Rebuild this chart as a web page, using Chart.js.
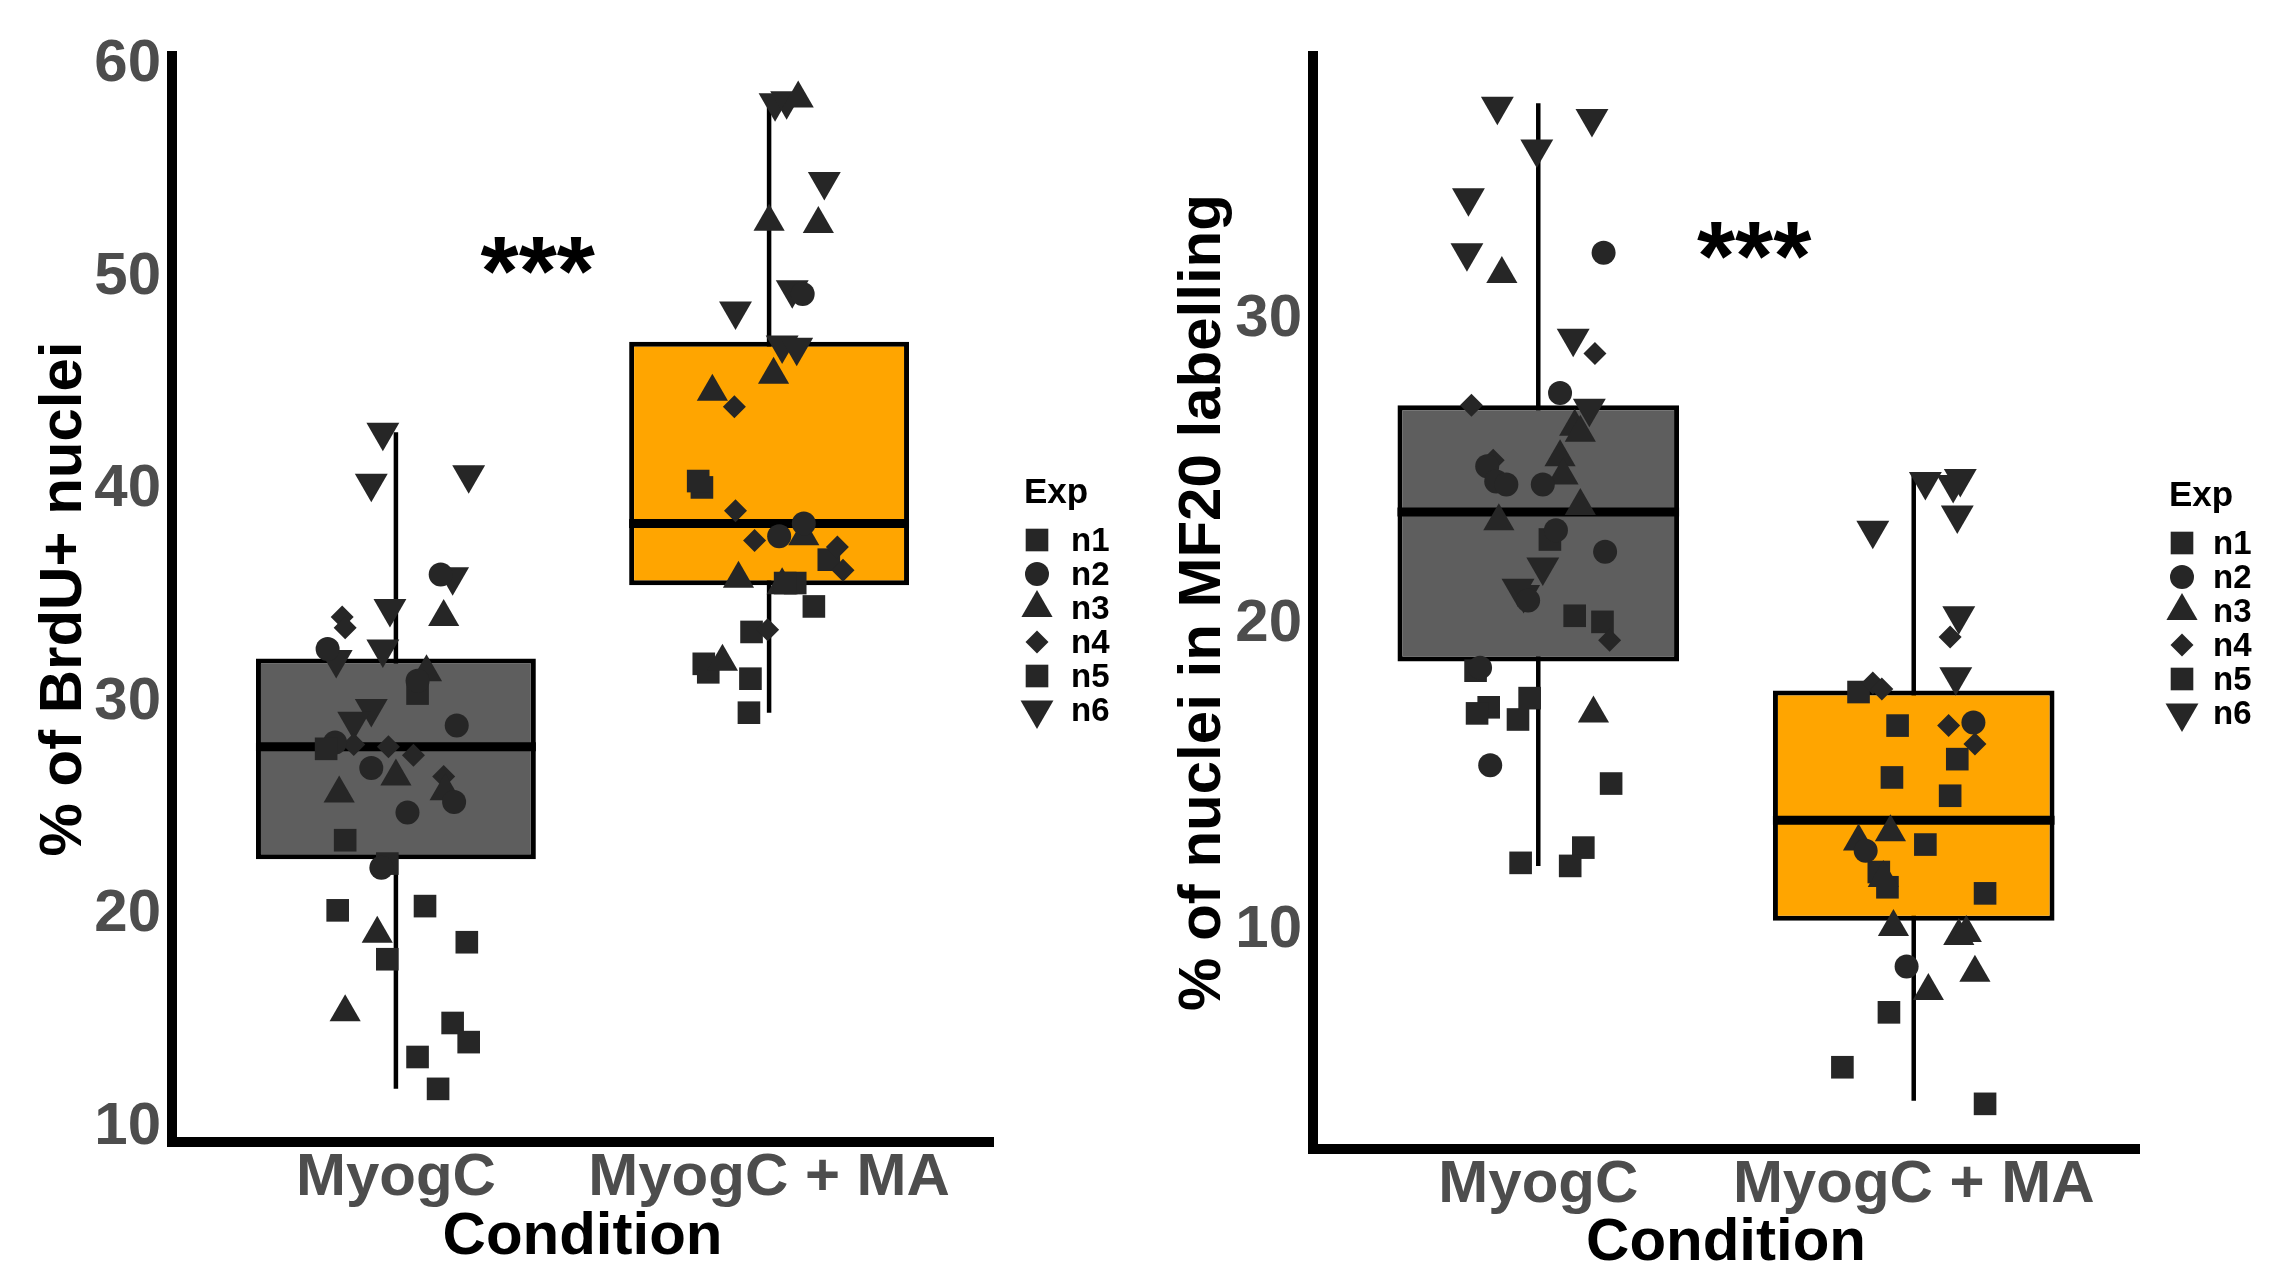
<!DOCTYPE html>
<html>
<head>
<meta charset="utf-8">
<script src="https://cdn.jsdelivr.net/npm/chart.js@4.4.1/dist/chart.umd.min.js"></script>
<style>
  html, body { margin: 0; padding: 0; background: #fff; }
  #wrap { position: relative; width: 2278px; height: 1267px; }
  canvas { position: absolute; top: 0; }
  #c1 { left: 0; }
  #c2 { left: 1140px; }
</style>
</head>
<body>
<div id="wrap">
  <canvas id="c1" width="1140" height="1267"></canvas>
  <canvas id="c2" width="1138" height="1267"></canvas>
</div>
<script>
// --- DATI ---
const condizioni = ['MyogC', 'MyogC + MA'];
const esperimenti = ['n1', 'n2', 'n3', 'n4', 'n5', 'n6'];

// Pannello 1: % of BrdU+ nuclei
const brduTicks = [10, 20, 30, 40, 50, 60];
const brduQ1 = [22.6, 35.5];
const brduMed = [27.9, 38.4];
const brduQ3 = [32.05, 46.95];
const brduLo = [11.8, 29.5];
const brduHi = [42.7, 58.4];
const brduStelle = [1.38, 51.3];

const brduCtrlVal = [42.7, 40.3, 40.7, 36.0, 35.9, 34.0, 34.4, 34.0, 33.5, 32.5, 32.0, 32.5, 31.0, 31.4, 30.4, 29.7, 29.1, 28.9, 28.1, 27.8, 28.0, 27.9, 27.5, 26.5, 26.9, 26.5, 25.8, 25.3, 25.7, 24.8, 23.5, 22.2, 22.4, 20.2, 20.4, 19.1, 17.9, 18.7, 15.4, 14.9, 14.0, 13.3, 11.8];
const brduCtrlExp = [6, 6, 6, 2, 6, 3, 6, 4, 4, 2, 6, 6, 2, 3, 5, 6, 6, 2, 2, 1, 4, 4, 4, 3, 2, 4, 3, 2, 3, 2, 1, 2, 5, 1, 1, 3, 5, 5, 3, 5, 5, 5, 5];
const brduCtrlJit = [-0.035, -0.066, 0.195, 0.12, 0.152, 0.128, -0.016, -0.144, -0.136, -0.183, -0.16, -0.035, 0.058, 0.082, 0.058, -0.066, -0.113, 0.163, -0.163, -0.187, -0.113, -0.02, 0.047, 0.0, -0.066, 0.128, 0.132, 0.156, -0.152, 0.031, -0.136, -0.039, -0.023, -0.156, 0.078, -0.05, -0.023, 0.19, -0.136, 0.152, 0.195, 0.058, 0.113];

const brduMaVal = [58.2, 58.3, 58.4, 54.5, 52.6, 52.5, 49.4, 49.2, 48.4, 46.8, 46.7, 45.4, 44.6, 43.9, 40.4, 40.1, 39.0, 38.4, 37.8, 37.8, 37.6, 37.3, 36.2, 36.7, 35.8, 35.6, 35.5, 35.6, 34.5, 33.3, 33.4, 31.8, 31.4, 31.9, 31.1, 29.5];
const brduMaExp = [6, 6, 3, 6, 3, 3, 6, 2, 6, 6, 6, 3, 3, 4, 1, 5, 4, 2, 2, 3, 4, 4, 4, 5, 3, 1, 3, 5, 5, 5, 4, 5, 5, 3, 5, 5];
const brduMaJit = [0.016, 0.047, 0.078, 0.148, 0.0, 0.132, 0.062, 0.09, -0.09, 0.035, 0.074, 0.012, -0.152, -0.093, -0.19, -0.18, -0.09, 0.093, 0.027, 0.093, -0.039, 0.183, 0.198, 0.16, -0.082, 0.043, 0.035, 0.07, 0.12, -0.047, -0.004, -0.175, -0.163, -0.125, -0.05, -0.054];

// Pannello 2: % of nuclei in MF20 labelling
const mf20Ticks = [10, 20, 30];
const mf20Q1 = [18.8, 10.3];
const mf20Med = [23.7, 13.6];
const mf20Q3 = [27.2, 17.85];
const mf20Lo = [12.1, 4.4];
const mf20Hi = [37.1, 24.9];
const mf20Stelle = [1.575, 32.8];

const mf20CtrlVal = [37.0, 36.6, 35.6, 34.0, 32.2, 31.5, 32.2, 29.4, 28.9, 27.2, 27.6, 27.1, 26.5, 26.3, 25.4, 25.2, 24.7, 24.6, 25.5, 24.6, 24.9, 23.4, 23.9, 23.1, 22.8, 22.4, 21.9, 21.2, 21.0, 20.8, 20.3, 20.1, 19.5, 18.6, 18.5, 17.6, 17.3, 17.1, 16.9, 17.1, 15.4, 14.8, 12.2, 12.7, 12.1];
const mf20CtrlExp = [6, 6, 6, 6, 6, 3, 2, 6, 4, 4, 2, 6, 3, 3, 4, 2, 2, 2, 3, 2, 3, 3, 3, 2, 5, 2, 6, 6, 6, 2, 5, 5, 4, 2, 5, 1, 5, 5, 5, 3, 2, 5, 5, 5, 1];
const mf20CtrlJit = [-0.109, 0.143, -0.004, -0.186, -0.19, -0.097, 0.174, 0.093, 0.151, -0.178, 0.058, 0.136, 0.097, 0.112, -0.12, -0.136, -0.112, -0.085, 0.058, 0.012, 0.066, -0.105, 0.112, 0.047, 0.031, 0.178, 0.012, -0.054, -0.039, -0.027, 0.097, 0.171, 0.19, -0.155, -0.167, -0.023, -0.132, -0.163, -0.054, 0.147, -0.128, 0.194, -0.047, 0.12, 0.085];

const mf20MaVal = [24.7, 24.8, 24.6, 23.6, 23.1, 20.3, 19.6, 18.3, 18.1, 17.9, 17.8, 16.7, 16.8, 16.7, 16.1, 15.6, 15.0, 14.4, 13.2, 12.9, 12.6, 12.8, 11.9, 11.7, 11.4, 11.2, 10.1, 9.8, 9.9, 8.8, 8.6, 8.0, 7.3, 5.5, 4.3];
const mf20MaExp = [6, 6, 6, 6, 6, 6, 4, 6, 4, 4, 5, 5, 2, 4, 4, 5, 5, 5, 3, 3, 2, 5, 5, 3, 5, 5, 3, 3, 3, 2, 3, 3, 5, 5, 5];
const mf20MaJit = [0.031, 0.124, 0.105, 0.116, -0.109, 0.12, 0.097, 0.112, -0.109, -0.085, -0.147, -0.043, 0.159, 0.093, 0.163, 0.116, -0.058, 0.097, -0.062, -0.147, -0.128, 0.031, -0.093, -0.081, -0.07, 0.19, -0.054, 0.12, 0.14, -0.019, 0.163, 0.039, -0.066, -0.19, 0.19];

// --- STILI ---
const FONT = "'Liberation Sans', Arial, sans-serif";
const MEZZA_SCATOLA = 0.375;   // meta larghezza box (unita asse x)
const coloriBox = ['#5E5E5E', '#FFA500'];
const colorePunti = '#262626';
const forme = [
  { pointStyle: 'rect', radius: 16, rotation: 0 },
  { pointStyle: 'circle', radius: 12, rotation: 0 },
  { pointStyle: 'triangle', radius: 18, rotation: 0 },
  { pointStyle: 'rectRot', radius: 11.5, rotation: 0 },
  { pointStyle: 'rect', radius: 16, rotation: 0 },
  { pointStyle: 'triangle', radius: 19, rotation: 180 }
];

Chart.defaults.font.family = FONT;

// stelle di significativita
const pluginStelle = {
  id: 'stelle',
  afterDatasetsDraw(chart, args, opts) {
    const { ctx, scales } = chart;
    const size = 98;
    ctx.save();
    ctx.font = `bold ${size}px ${FONT}`;
    ctx.fillStyle = '#000';
    ctx.textAlign = 'center';
    ctx.textBaseline = 'alphabetic';
    const x = scales.x.getPixelForValue(opts.pos[0]);
    const y = scales.y.getPixelForValue(opts.pos[1]) + size * 0.565;
    ctx.fillText('***', x, y);
    ctx.restore();
  }
};

// legenda "Exp"
const pluginLegenda = {
  id: 'legendaExp',
  afterDraw(chart, args, opts) {
    const { ctx } = chart;
    ctx.save();
    ctx.fillStyle = '#000';
    ctx.font = `bold 35px ${FONT}`;
    ctx.textAlign = 'left';
    ctx.textBaseline = 'alphabetic';
    ctx.fillText('Exp', opts.titleX, opts.titleY);
    ctx.font = `bold 33px ${FONT}`;
    ctx.textBaseline = 'middle';
    esperimenti.forEach((nome, k) => {
      const y = opts.y0 + k * opts.step;
      ctx.fillStyle = colorePunti;
      Chart.helpers.drawPoint(ctx, { pointStyle: forme[k].pointStyle, radius: forme[k].radius, rotation: forme[k].rotation, borderWidth: 0 }, opts.symX, y);
      ctx.fillStyle = '#000';
      ctx.fillText(nome, opts.textX, y + 2);
    });
    ctx.restore();
  }
};

function creaGrafico(id, p) {
  const datasets = [];

  // punti (jitter) per esperimento
  esperimenti.forEach((nome, k) => {
    const pts = [];
    p.gruppi.forEach((g, gi) => {
      g.val.forEach((v, i) => {
        if (g.exp[i] === k + 1) pts.push({ x: gi + 1 + g.jit[i], y: v });
      });
    });
    datasets.push({
      type: 'scatter', label: nome, data: pts, order: 0,
      backgroundColor: colorePunti, borderWidth: 0,
      pointStyle: forme[k].pointStyle, pointRadius: forme[k].radius,
      pointHoverRadius: forme[k].radius, pointRotation: forme[k].rotation
    });
  });

  condizioni.forEach((c, gi) => {
    // mediana
    datasets.push({
      type: 'line', label: 'mediana ' + c, order: 1,
      data: [{ x: gi + 1 - MEZZA_SCATOLA, y: p.med[gi] }, { x: gi + 1 + MEZZA_SCATOLA, y: p.med[gi] }],
      borderColor: '#000', borderWidth: 9, borderCapStyle: 'butt', pointRadius: 0
    });
    // baffi
    datasets.push({
      type: 'line', label: 'baffi ' + c, order: 3,
      data: [{ x: gi + 1, y: p.lo[gi] }, { x: gi + 1, y: p.hi[gi] }],
      borderColor: '#000', borderWidth: 4.5, borderCapStyle: 'butt', pointRadius: 0
    });
  });

  // scatole (barre flottanti Q1-Q3)
  datasets.push({
    type: 'bar', label: 'box', order: 2,
    data: condizioni.map((c, gi) => ({ x: gi + 1, y: [p.q1[gi], p.q3[gi]] })),
    backgroundColor: coloriBox, borderColor: '#000', borderWidth: 5, borderSkipped: false,
    categoryPercentage: 1, barPercentage: 2 * MEZZA_SCATOLA
  });

  return new Chart(document.getElementById(id), {
    type: 'scatter',
    data: { datasets },
    options: {
      responsive: false,
      animation: false,
      devicePixelRatio: 1,
      layout: { padding: p.padding },
      plugins: {
        legend: { display: false },
        tooltip: { enabled: false },
        stelle: { pos: p.stelle },
        legendaExp: p.legenda
      },
      scales: {
        x: {
          type: 'linear', min: 0.4, max: 2.6, offset: false,
          afterBuildTicks: s => { s.ticks = condizioni.map((c, i) => ({ value: i + 1 })); },
          afterFit: s => { s.height = p.xHeight; },
          ticks: {
            callback: v => condizioni[Math.round(v) - 1],
            color: '#4D4D4D', padding: 6, maxRotation: 0, autoSkip: false,
            font: { size: 60, weight: 'bold', lineHeight: 1 }
          },
          grid: { display: false, drawTicks: false, tickLength: 0, offset: false },
          border: { display: true, color: '#000', width: 10 },
          title: {
            display: true, text: 'Condition', color: '#000',
            font: { size: 60, weight: 'bold', lineHeight: 1 },
            padding: { top: 0, bottom: p.xTitlePad }
          }
        },
        y: {
          type: 'linear', min: p.min, max: p.max, offset: false,
          afterBuildTicks: s => { s.ticks = p.ticks.map(v => ({ value: v })); },
          afterFit: s => { s.width = p.yWidth; },
          ticks: {
            color: '#4D4D4D', padding: 11,
            font: { size: 60, weight: 'bold', lineHeight: 1 }
          },
          grid: { display: false, drawTicks: false, tickLength: 0 },
          border: { display: true, color: '#000', width: 10 },
          title: {
            display: true, text: p.yTitle, color: '#000',
            font: { size: 60, weight: 'bold', lineHeight: 1 },
            padding: { top: p.yTitlePad, bottom: 0 }
          }
        }
      }
    },
    plugins: [pluginStelle, pluginLegenda]
  });
}

creaGrafico('c1', {
  gruppi: [
    { val: brduCtrlVal, exp: brduCtrlExp, jit: brduCtrlJit },
    { val: brduMaVal, exp: brduMaExp, jit: brduMaJit }
  ],
  q1: brduQ1, med: brduMed, q3: brduQ3, lo: brduLo, hi: brduHi,
  ticks: brduTicks, min: 9.3, max: 60.4, stelle: brduStelle,
  yTitle: '% of BrdU+ nuclei',
  padding: { left: 0, top: 56, right: 147, bottom: 0 },
  yWidth: 172, xHeight: 125, xTitlePad: 0, yTitlePad: 34,
  legenda: { titleX: 1024, titleY: 503, symX: 1037, textX: 1071, y0: 540, step: 34 }
});

creaGrafico('c2', {
  gruppi: [
    { val: mf20CtrlVal, exp: mf20CtrlExp, jit: mf20CtrlJit },
    { val: mf20MaVal, exp: mf20MaExp, jit: mf20MaJit }
  ],
  q1: mf20Q1, med: mf20Med, q3: mf20Q3, lo: mf20Lo, hi: mf20Hi,
  ticks: mf20Ticks, min: 2.82, max: 38.65, stelle: mf20Stelle,
  yTitle: '% of nuclei in MF20 labelling',
  padding: { left: 0, top: 56, right: 139, bottom: 0 },
  yWidth: 173, xHeight: 118, xTitlePad: -6, yTitlePad: 33,
  legenda: { titleX: 1029, titleY: 506, symX: 1042, textX: 1073, y0: 543, step: 34 }
});
</script>
</body>
</html>
